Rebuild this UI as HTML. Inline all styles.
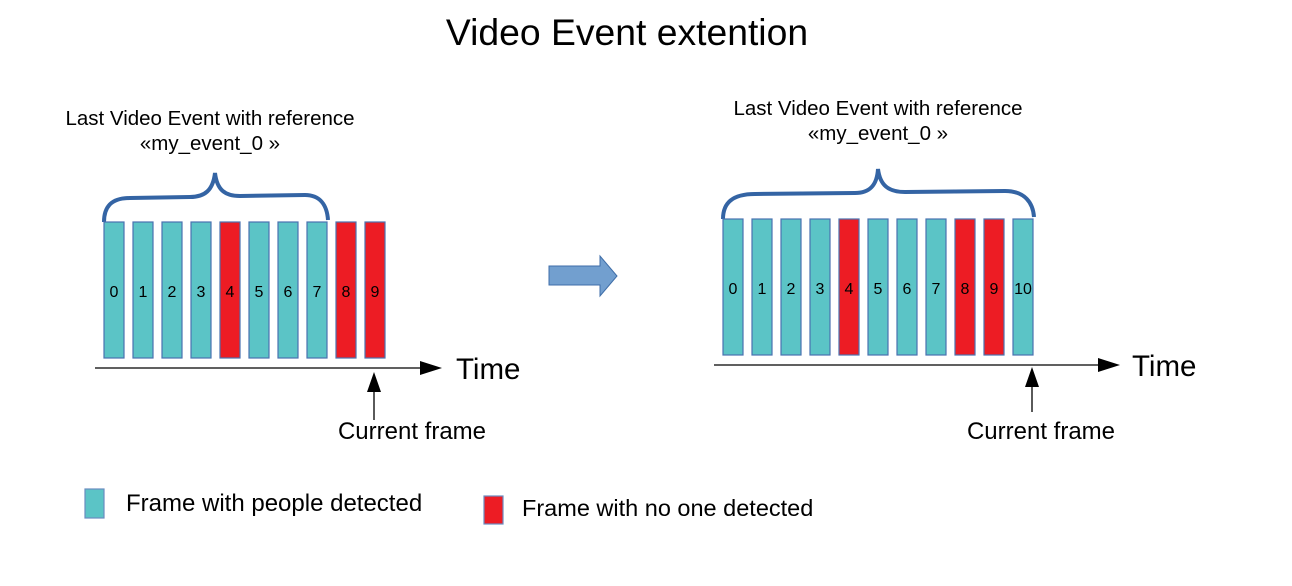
<!DOCTYPE html>
<html><head><meta charset="utf-8"><style>
html,body{margin:0;padding:0;background:#fff;}
svg{display:block;font-family:"Liberation Sans",sans-serif;}
</style></head><body>
<svg width="1292" height="586" viewBox="0 0 1292 586" xmlns="http://www.w3.org/2000/svg">
<text x="627" y="45" font-size="37.3" text-anchor="middle">Video Event extention</text>

<!-- LEFT -->
<text x="210" y="125" font-size="20.5" text-anchor="middle">Last Video Event with reference</text>
<text x="210" y="150" font-size="20.5" text-anchor="middle">«my_event_0 »</text>
<path d="M104,222 C104,208 110,198 130,198 L190,197 C205,197 213,190 215,173 C217,190 225,196 240,196 L305,195 C320,195 327,205 328,220" fill="none" stroke="#3464a4" stroke-width="4"/>
<g stroke="#4a72b0" stroke-width="1.2">
<rect x="104" y="222" width="20" height="136" fill="#5bc4c6"/>
<rect x="133" y="222" width="20" height="136" fill="#5bc4c6"/>
<rect x="162" y="222" width="20" height="136" fill="#5bc4c6"/>
<rect x="191" y="222" width="20" height="136" fill="#5bc4c6"/>
<rect x="220" y="222" width="20" height="136" fill="#ed1c24"/>
<rect x="249" y="222" width="20" height="136" fill="#5bc4c6"/>
<rect x="278" y="222" width="20" height="136" fill="#5bc4c6"/>
<rect x="307" y="222" width="20" height="136" fill="#5bc4c6"/>
<rect x="336" y="222" width="20" height="136" fill="#ed1c24"/>
<rect x="365" y="222" width="20" height="136" fill="#ed1c24"/>
</g>
<g font-size="16" text-anchor="middle">
<text x="114" y="297">0</text><text x="143" y="297">1</text><text x="172" y="297">2</text><text x="201" y="297">3</text><text x="230" y="297">4</text><text x="259" y="297">5</text><text x="288" y="297">6</text><text x="317" y="297">7</text><text x="346" y="297">8</text><text x="375" y="297">9</text>
</g>
<line x1="95" y1="368" x2="422" y2="368" stroke="#000" stroke-width="1.3"/>
<polygon points="420,361 442,368 420,375" fill="#000"/>
<text x="456" y="379" font-size="29.5">Time</text>
<line x1="374" y1="390" x2="374" y2="420" stroke="#000" stroke-width="1.3"/>
<polygon points="367,392 374,372 381,392" fill="#000"/>
<text x="412" y="439" font-size="24" text-anchor="middle">Current frame</text>

<!-- ARROW -->
<polygon points="549,266 600,266 600,256 617,276 600,296 600,285 549,285" fill="#729fcf" stroke="#3f6ea8" stroke-width="1"/>

<!-- RIGHT -->
<text x="878" y="115" font-size="20.5" text-anchor="middle">Last Video Event with reference</text>
<text x="878" y="140" font-size="20.5" text-anchor="middle">«my_event_0 »</text>
<path d="M723,219 C723,205 730,194 755,194 L855,193 C870,193 877,185 878,169 C880,185 888,192 905,192 L1005,191 C1025,191 1033,203 1034,217" fill="none" stroke="#3464a4" stroke-width="4"/>
<g stroke="#4a72b0" stroke-width="1.2">
<rect x="723" y="219" width="20" height="136" fill="#5bc4c6"/>
<rect x="752" y="219" width="20" height="136" fill="#5bc4c6"/>
<rect x="781" y="219" width="20" height="136" fill="#5bc4c6"/>
<rect x="810" y="219" width="20" height="136" fill="#5bc4c6"/>
<rect x="839" y="219" width="20" height="136" fill="#ed1c24"/>
<rect x="868" y="219" width="20" height="136" fill="#5bc4c6"/>
<rect x="897" y="219" width="20" height="136" fill="#5bc4c6"/>
<rect x="926" y="219" width="20" height="136" fill="#5bc4c6"/>
<rect x="955" y="219" width="20" height="136" fill="#ed1c24"/>
<rect x="984" y="219" width="20" height="136" fill="#ed1c24"/>
<rect x="1013" y="219" width="20" height="136" fill="#5bc4c6"/>
</g>
<g font-size="16" text-anchor="middle">
<text x="733" y="294">0</text><text x="762" y="294">1</text><text x="791" y="294">2</text><text x="820" y="294">3</text><text x="849" y="294">4</text><text x="878" y="294">5</text><text x="907" y="294">6</text><text x="936" y="294">7</text><text x="965" y="294">8</text><text x="994" y="294">9</text><text x="1023" y="294">10</text>
</g>
<line x1="714" y1="365" x2="1100" y2="365" stroke="#000" stroke-width="1.3"/>
<polygon points="1098,358 1120,365 1098,372" fill="#000"/>
<text x="1132" y="376" font-size="29.5">Time</text>
<line x1="1032" y1="385" x2="1032" y2="412" stroke="#000" stroke-width="1.3"/>
<polygon points="1025,387 1032,367 1039,387" fill="#000"/>
<text x="1041" y="439" font-size="24" text-anchor="middle">Current frame</text>

<!-- LEGEND -->
<rect x="85" y="489" width="19" height="29" fill="#5bc4c6" stroke="#6a8cc0" stroke-width="1.2"/>
<text x="126" y="511" font-size="24">Frame with people detected</text>
<rect x="484" y="496" width="19" height="28" fill="#ed1c24" stroke="#6a8cc0" stroke-width="1.2"/>
<text x="522" y="516" font-size="23.5">Frame with no one detected</text>
</svg>
</body></html>
